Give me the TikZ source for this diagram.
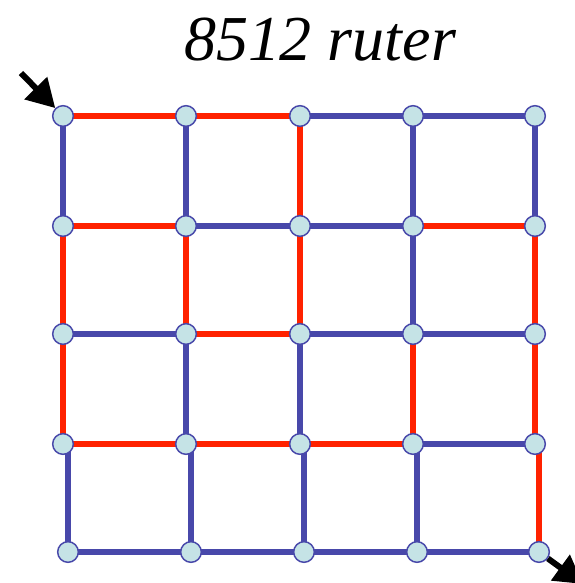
\documentclass[tikz,border=0pt]{standalone}
\usepackage{fontspec}
\setmainfont{Liberation Serif}
\usetikzlibrary{arrows.meta}
\definecolor{routered}{HTML}{FF2200}
\definecolor{routeblue}{HTML}{4848AA}
\definecolor{routefill}{HTML}{C5E3E6}

\begin{document}
\begin{tikzpicture}[x=0.75pt, y=-0.75pt]
        \tikzstyle{router} = [circle, draw=routeblue, fill=routefill, line width=1.1pt, minimum size=15.5pt, inner sep=0pt]
        \tikzstyle{redlink} = [draw=routered, line width=4pt]
        \tikzstyle{bluelink} = [draw=routeblue, line width=4pt]
        \tikzstyle{entry} = [draw, line width=4.5pt, -{Triangle[length=21pt, width=23pt]}]

        \useasboundingbox (0,0) rectangle (575,583);

        \node [anchor=base] (title) at (320,60) {\fontsize{48}{58}\selectfont\itshape 8512 ruter};

        % routers, row by row
        \foreach \c/\x in {1/63, 2/186, 3/300, 4/413, 5/535} {
            \coordinate (n1\c) at (\x,116);
            \coordinate (n2\c) at (\x,226);
            \coordinate (n3\c) at (\x,334);
            \coordinate (n4\c) at (\x,444);
        }
        \foreach \c/\x in {1/68, 2/191, 3/304, 4/417, 5/539}
            \coordinate (n5\c) at (\x,552);

        % horizontal links
        \path [redlink] (n11) -- (n12) -- (n13);
        \path [bluelink] (n13) -- (n14) -- (n15);
        \path [redlink] (n21) -- (n22);
        \path [bluelink] (n22) -- (n23) -- (n24);
        \path [redlink] (n24) -- (n25);
        \path [bluelink] (n31) -- (n32);
        \path [redlink] (n32) -- (n33);
        \path [bluelink] (n33) -- (n34) -- (n35);
        \path [redlink] (n41) -- (n42) -- (n43) -- (n44);
        \path [bluelink] (n44) -- (n45);
        \path [bluelink] (n51) -- (n52) -- (n53) -- (n54) -- (n55);

        % vertical links
        \path [bluelink] (n11) -- (n21);
        \path [redlink] (n21) -- (n31) -- (n41);
        \path [bluelink] (n41) -| (n51);
        \path [bluelink] (n12) -- (n22);
        \path [redlink] (n22) -- (n32);
        \path [bluelink] (n32) -- (n42) -| (n52);
        \path [redlink] (n13) -- (n23) -- (n33);
        \path [bluelink] (n33) -- (n43) -| (n53);
        \path [bluelink] (n14) -- (n24) -- (n34);
        \path [redlink] (n34) -- (n44);
        \path [bluelink] (n44) -| (n54);
        \path [bluelink] (n15) -- (n25);
        \path [redlink] (n25) -- (n35) -- (n45) -| (n55);

        \foreach \r in {1,...,5}
            \foreach \c in {1,...,5}
                \node [router] (r\r\c) at (n\r\c) {};

        % way in and way out
        \coordinate (in) at (21,73);
        \coordinate (out) at (583,584);
        \path [entry] (in) -- (r11);
        \path [entry] (r55) -- (out);
\end{tikzpicture}
\end{document}
